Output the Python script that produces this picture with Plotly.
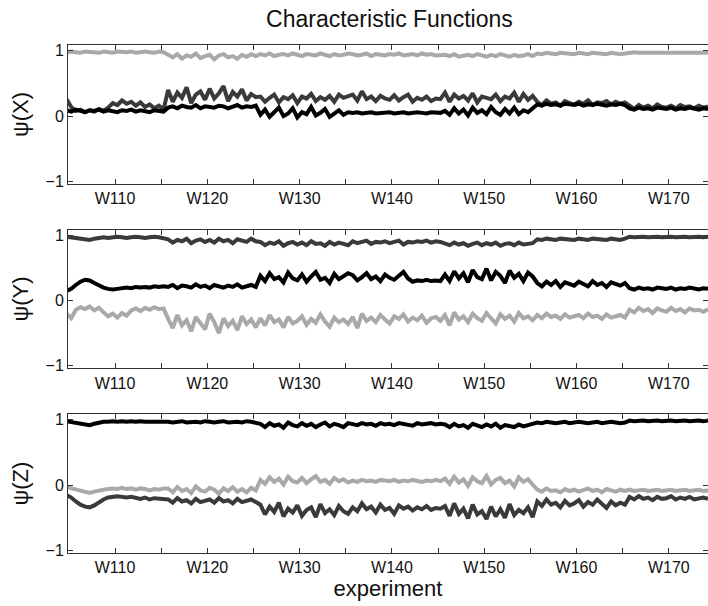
import plotly.graph_objects as go
from plotly.subplots import make_subplots

# experiments W105..W174, two samples per experiment
experiments = list(range(105, 175))
x_ticks = list(range(105, 180, 5))
x_labels = ["W%d" % t if t % 10 == 0 else "" for t in x_ticks]

# psi(X)
psi_x_light = [
    0.97, 0.99, 0.98, 0.97, 0.99, 0.98, 0.98, 0.97, 0.99, 0.98, 0.97, 0.99, 0.98, 0.98, 0.99, 0.97, 0.98, 0.99, 0.98, 0.97, 0.99, 0.98,
    0.94, 0.90, 0.95, 0.88, 0.93, 0.91, 0.96, 0.89, 0.92, 0.94, 0.87, 0.93, 0.95, 0.90, 0.92, 0.88, 0.94, 0.91, 0.95, 0.92,
    0.95, 0.93, 0.96, 0.92, 0.94, 0.95, 0.93, 0.96, 0.94, 0.92, 0.95, 0.94, 0.93, 0.96, 0.94, 0.92, 0.95, 0.93, 0.94, 0.96,
    0.95, 0.93, 0.94, 0.96, 0.92, 0.95, 0.94, 0.93, 0.95, 0.94, 0.96, 0.93, 0.94, 0.95, 0.93, 0.96, 0.94, 0.95, 0.93, 0.94,
    0.94, 0.92, 0.95, 0.91, 0.93, 0.94, 0.92, 0.95, 0.93, 0.91, 0.94, 0.92, 0.95, 0.93, 0.91, 0.94, 0.92, 0.93, 0.95, 0.92,
    0.96, 0.95, 0.97, 0.96, 0.95, 0.97, 0.96, 0.96, 0.95, 0.97, 0.96, 0.95, 0.97, 0.96, 0.96, 0.95, 0.97, 0.96, 0.95, 0.96,
    0.97, 0.98, 0.97, 0.97, 0.98, 0.97, 0.98, 0.97, 0.97, 0.98, 0.97, 0.98, 0.97, 0.97, 0.98, 0.97, 0.98, 0.97,
]
psi_x_dark = [
    0.26, 0.14, 0.08, 0.10, 0.06, 0.09, 0.07, 0.11, 0.08, 0.13, 0.20, 0.17, 0.24, 0.19, 0.22, 0.16, 0.21, 0.14, 0.18, 0.12, 0.16, 0.10,
    0.40, 0.22, 0.36, 0.28, 0.44, 0.20, 0.33, 0.38, 0.25, 0.42, 0.27, 0.35, 0.46, 0.23, 0.37, 0.30, 0.41, 0.24, 0.34, 0.29,
    0.30, 0.22, 0.28, 0.33, 0.21, 0.29, 0.26, 0.32, 0.20, 0.30, 0.27, 0.34, 0.23, 0.29, 0.25, 0.31, 0.22, 0.33, 0.28, 0.30,
    0.33, 0.24, 0.38, 0.26, 0.30, 0.23, 0.31, 0.27, 0.25, 0.32, 0.24, 0.29, 0.33, 0.22, 0.28, 0.25, 0.30, 0.23, 0.27, 0.26,
    0.36, 0.22, 0.33, 0.27, 0.31, 0.24, 0.35, 0.21, 0.30, 0.28, 0.26, 0.33, 0.23, 0.30, 0.27, 0.36, 0.22, 0.34, 0.25, 0.31,
    0.22, 0.17, 0.24, 0.19, 0.21, 0.16, 0.23, 0.20, 0.18, 0.22, 0.19, 0.24, 0.17, 0.21, 0.20, 0.23, 0.18, 0.22, 0.19, 0.21,
    0.15, 0.11, 0.17, 0.13, 0.16, 0.12, 0.18, 0.14, 0.13, 0.16, 0.12, 0.17, 0.14, 0.15, 0.12, 0.16, 0.13, 0.15,
]
psi_x_black = [
    0.09, 0.07, 0.10, 0.08, 0.06, 0.09, 0.08, 0.10, 0.07, 0.09, 0.08, 0.06, 0.09, 0.08, 0.10, 0.07, 0.09, 0.08, 0.06, 0.09, 0.08, 0.07,
    0.13, 0.15, 0.12, 0.16, 0.14, 0.13, 0.17, 0.12, 0.15, 0.14, 0.13, 0.16, 0.15, 0.12, 0.14, 0.17, 0.13, 0.15, 0.14, 0.16,
    0.02, 0.10, -0.01, 0.05, 0.13, 0.00, 0.04, 0.12, -0.02, 0.06, 0.03, 0.14, 0.01, 0.05, 0.11, -0.01, 0.04, 0.09, 0.02, 0.06,
    0.05, 0.06, 0.04, 0.05, 0.06, 0.04, 0.05, 0.05, 0.06, 0.04, 0.05, 0.06, 0.04, 0.05, 0.06, 0.05, 0.04, 0.06, 0.05, 0.05,
    0.08, 0.02, 0.12, 0.04, 0.10, 0.01, 0.13, 0.05, 0.09, 0.03, 0.14, 0.06, 0.02, 0.11, 0.04, 0.13, 0.03, 0.09, 0.06, 0.12,
    0.18, 0.16, 0.19, 0.17, 0.18, 0.16, 0.19, 0.18, 0.17, 0.19, 0.16, 0.18, 0.17, 0.19, 0.18, 0.16, 0.18, 0.17, 0.19, 0.17,
    0.12, 0.10, 0.13, 0.11, 0.12, 0.10, 0.13, 0.12, 0.11, 0.13, 0.10, 0.12, 0.11, 0.13, 0.12, 0.10, 0.12, 0.11,
]

# psi(Y)
psi_y_light = [
    -0.20, -0.27, -0.14, -0.10, -0.13, -0.09, -0.15, -0.11, -0.18, -0.24, -0.20, -0.26, -0.19, -0.23, -0.15, -0.12, -0.16, -0.11, -0.14, -0.10, -0.13, -0.12,
    -0.28, -0.42, -0.22, -0.38, -0.30, -0.47, -0.25, -0.35, -0.44, -0.20, -0.33, -0.50, -0.27, -0.39, -0.31, -0.45, -0.24, -0.36, -0.29, -0.41,
    -0.27, -0.38, -0.22, -0.33, -0.29, -0.41, -0.25, -0.35, -0.31, -0.24, -0.37, -0.28, -0.34, -0.21, -0.32, -0.40, -0.26, -0.33, -0.29, -0.36,
    -0.25, -0.42, -0.20, -0.31, -0.26, -0.33, -0.22, -0.29, -0.35, -0.24, -0.28, -0.21, -0.32, -0.26, -0.30, -0.23, -0.34, -0.27, -0.25, -0.31,
    -0.22, -0.38, -0.18, -0.29, -0.24, -0.33, -0.20, -0.27, -0.31, -0.19, -0.26, -0.35, -0.21, -0.28, -0.23, -0.32, -0.19, -0.27, -0.24, -0.30,
    -0.22, -0.27, -0.20, -0.25, -0.23, -0.28, -0.21, -0.26, -0.24, -0.22, -0.27, -0.20, -0.25, -0.23, -0.28, -0.21, -0.26, -0.24, -0.22, -0.26,
    -0.14, -0.18, -0.11, -0.16, -0.13, -0.19, -0.12, -0.15, -0.17, -0.11, -0.16, -0.13, -0.18, -0.12, -0.15, -0.14, -0.17, -0.13,
]
psi_y_dark = [
    0.98, 0.97, 0.96, 0.95, 0.94, 0.93, 0.95, 0.96, 0.97, 0.96, 0.97, 0.98, 0.97, 0.96, 0.97, 0.98, 0.97, 0.96, 0.97, 0.98, 0.97, 0.96,
    0.94, 0.89, 0.93, 0.91, 0.95, 0.88, 0.92, 0.94, 0.90, 0.93, 0.89, 0.95, 0.91, 0.93, 0.88, 0.94, 0.92, 0.90, 0.95, 0.91,
    0.90, 0.85, 0.89, 0.87, 0.91, 0.84, 0.88, 0.90, 0.86, 0.89, 0.85, 0.91, 0.87, 0.88, 0.84, 0.90, 0.86, 0.89, 0.87, 0.85,
    0.91, 0.88, 0.90, 0.92, 0.87, 0.90, 0.89, 0.91, 0.88, 0.90, 0.92, 0.86, 0.90, 0.89, 0.91, 0.90, 0.92, 0.89, 0.91, 0.90,
    0.88, 0.85, 0.89, 0.86, 0.88, 0.84, 0.87, 0.89, 0.85, 0.88, 0.86, 0.89, 0.84, 0.87, 0.88, 0.85, 0.89, 0.86, 0.87, 0.88,
    0.94, 0.93, 0.95, 0.94, 0.93, 0.95, 0.94, 0.94, 0.93, 0.95, 0.94, 0.93, 0.95, 0.94, 0.94, 0.93, 0.95, 0.94, 0.93, 0.95,
    0.98, 0.97, 0.98, 0.98, 0.97, 0.98, 0.98, 0.97, 0.98, 0.98, 0.97, 0.98, 0.98, 0.97, 0.98, 0.98, 0.97, 0.98,
]
psi_y_black = [
    0.15, 0.18, 0.24, 0.29, 0.32, 0.31, 0.27, 0.23, 0.20, 0.18, 0.17, 0.18, 0.19, 0.20, 0.19, 0.21, 0.20, 0.21, 0.20, 0.22, 0.21, 0.22,
    0.21, 0.24, 0.19, 0.23, 0.22, 0.20, 0.25, 0.21, 0.23, 0.19, 0.24, 0.22, 0.20, 0.23, 0.21, 0.25, 0.20, 0.22, 0.24, 0.21,
    0.38, 0.30, 0.42, 0.33, 0.36, 0.28, 0.43, 0.34, 0.31, 0.40, 0.29, 0.37, 0.44, 0.32, 0.35, 0.27, 0.41, 0.33, 0.38, 0.42,
    0.39, 0.31, 0.36, 0.42, 0.33, 0.37, 0.30, 0.40, 0.35, 0.32, 0.38, 0.44, 0.34, 0.29, 0.31, 0.30, 0.32, 0.30, 0.31, 0.30,
    0.40, 0.30, 0.45, 0.34, 0.42, 0.28, 0.47, 0.36, 0.33, 0.49, 0.31, 0.44, 0.38, 0.27, 0.46, 0.35, 0.41, 0.30, 0.43, 0.37,
    0.27, 0.22, 0.29, 0.24, 0.30, 0.21, 0.28, 0.25, 0.23, 0.29, 0.26, 0.22, 0.30, 0.24, 0.27, 0.21, 0.28, 0.25, 0.23, 0.27,
    0.19, 0.17, 0.20, 0.18, 0.19, 0.17, 0.20, 0.19, 0.18, 0.20, 0.17, 0.19, 0.18, 0.20, 0.19, 0.17, 0.19, 0.18,
]

# psi(Z)
psi_z_light = [
    -0.03, -0.05, -0.07, -0.09, -0.11, -0.12, -0.10, -0.08, -0.07, -0.06, -0.05, -0.06, -0.04, -0.06, -0.05, -0.07, -0.05, -0.06, -0.08, -0.06, -0.07, -0.05,
    -0.05, -0.11, -0.03, -0.09, -0.06, -0.12, -0.02, -0.08, -0.10, -0.04, -0.07, -0.13, -0.05, -0.09, -0.03, -0.10, -0.06, -0.11, -0.04, -0.08,
    0.08, 0.02, 0.12, 0.05, 0.10, 0.01, 0.13, 0.06, 0.04, 0.11, 0.03, 0.09, 0.14, 0.05, 0.08, 0.02, 0.11, 0.06, 0.09, 0.04,
    0.07, 0.05, 0.08, 0.06, 0.07, 0.05, 0.08, 0.07, 0.06, 0.08, 0.05, 0.07, 0.06, 0.08, 0.07, 0.05, 0.07, 0.06, 0.08, 0.06,
    0.10, 0.02, 0.13, 0.04, 0.09, -0.01, 0.12, 0.06, 0.03, 0.14, 0.01, 0.08, 0.11, 0.03, 0.07, -0.02, 0.12, 0.05, 0.09, 0.02,
    -0.07, -0.10, -0.05, -0.09, -0.08, -0.11, -0.06, -0.09, -0.07, -0.10, -0.08, -0.05, -0.09, -0.07, -0.11, -0.06, -0.08, -0.10, -0.07, -0.09,
    -0.07, -0.09, -0.08, -0.07, -0.09, -0.08, -0.07, -0.09, -0.08, -0.07, -0.09, -0.08, -0.07, -0.09, -0.08, -0.07, -0.09, -0.08,
]
psi_z_dark = [
    -0.15, -0.19, -0.25, -0.30, -0.33, -0.34, -0.31, -0.26, -0.22, -0.19, -0.18, -0.17, -0.18, -0.19, -0.18, -0.20, -0.21, -0.19, -0.22, -0.20, -0.21, -0.22,
    -0.22, -0.27, -0.20, -0.25, -0.23, -0.28, -0.21, -0.26, -0.24, -0.22, -0.27, -0.20, -0.25, -0.23, -0.28, -0.21, -0.26, -0.24, -0.22, -0.26,
    -0.30, -0.45, -0.33, -0.41, -0.27, -0.48, -0.36, -0.42, -0.31, -0.47, -0.38, -0.34, -0.49, -0.29, -0.43, -0.37, -0.46, -0.32, -0.40, -0.44,
    -0.34, -0.40, -0.28, -0.37, -0.33, -0.42, -0.30, -0.38, -0.35, -0.44, -0.31, -0.36, -0.33, -0.39, -0.34, -0.37, -0.32, -0.38, -0.35, -0.36,
    -0.32, -0.47, -0.28, -0.44, -0.36, -0.51, -0.30, -0.45, -0.40, -0.52, -0.33, -0.48, -0.37, -0.50, -0.29, -0.46, -0.38, -0.43, -0.34, -0.49,
    -0.25, -0.32, -0.22, -0.30, -0.27, -0.34, -0.24, -0.31, -0.28, -0.23, -0.33, -0.26, -0.30, -0.22, -0.29, -0.35, -0.25, -0.31, -0.27, -0.30,
    -0.18, -0.22, -0.17, -0.21, -0.19, -0.23, -0.18, -0.21, -0.20, -0.17, -0.22, -0.19, -0.21, -0.18, -0.22, -0.20, -0.19, -0.21,
]
psi_z_black = [
    0.98, 0.97, 0.96, 0.95, 0.93, 0.92, 0.94, 0.96, 0.97, 0.97, 0.98, 0.97, 0.98, 0.97, 0.98, 0.97, 0.98, 0.97, 0.97, 0.98, 0.97, 0.98,
    0.97, 0.96, 0.97, 0.98, 0.96, 0.97, 0.97, 0.96, 0.98, 0.97, 0.96, 0.97, 0.98, 0.96, 0.97, 0.97, 0.96, 0.98, 0.97, 0.96,
    0.94, 0.89, 0.95, 0.91, 0.93, 0.88, 0.96, 0.92, 0.90, 0.95, 0.91, 0.94, 0.89, 0.93, 0.96, 0.90, 0.94, 0.92, 0.89, 0.95,
    0.94, 0.92, 0.95, 0.93, 0.94, 0.91, 0.95, 0.93, 0.94, 0.92, 0.95, 0.94, 0.93, 0.91, 0.95, 0.93, 0.94, 0.95, 0.93, 0.94,
    0.93, 0.89, 0.94, 0.90, 0.92, 0.88, 0.94, 0.91, 0.89, 0.93, 0.90, 0.94, 0.88, 0.92, 0.91, 0.89, 0.93, 0.90, 0.92, 0.94,
    0.96, 0.95, 0.97, 0.96, 0.95, 0.96, 0.97, 0.95, 0.96, 0.97, 0.96, 0.95, 0.96, 0.97, 0.95, 0.96, 0.97, 0.96, 0.95, 0.96,
    0.99, 0.98, 0.99, 0.99, 0.98, 0.99, 0.99, 0.98, 0.99, 0.99, 0.98, 0.99, 0.99, 0.98, 0.99, 0.99, 0.98, 0.99,
]

# sample positions: two per experiment
x = []
for e in experiments:
    x += [e - 0.25, e + 0.25]

panels = [
    ("ψ(X)", [psi_x_light, psi_x_dark, psi_x_black]),
    ("ψ(Y)", [psi_y_light, psi_y_dark, psi_y_black]),
    ("ψ(Z)", [psi_z_light, psi_z_dark, psi_z_black]),
]
colors = ["#a9a9a9", "#3a3a3a", "#000000"]
font = "Liberation Sans, Arial, Helvetica, sans-serif"

fig = make_subplots(rows=3, cols=1, vertical_spacing=0.0896)

for row, (label, series) in enumerate(panels, start=1):
    for ys, c in zip(series, colors):
        fig.add_trace(go.Scatter(x=x, y=ys, mode="lines",
                                 line=dict(color=c, width=4),
                                 showlegend=False, hoverinfo="skip"),
                      row=row, col=1)
    fig.update_xaxes(range=[104.9, 174.25], tickvals=x_ticks, ticktext=x_labels,
                     ticks="inside", ticklen=5, tickcolor="#333",
                     showline=True, linecolor="#333", linewidth=1, mirror="ticks",
                     showgrid=False, zeroline=False, automargin=False,
                     tickfont=dict(size=16, color="#111"),
                     row=row, col=1)
    fig.update_yaxes(range=[-1.04, 1.09], tickvals=[-1, 0, 1], ticktext=["−1", "0", "1"],
                     ticks="inside", ticklen=5, tickcolor="#333",
                     showline=True, linecolor="#333", linewidth=1, mirror="ticks",
                     showgrid=False, zeroline=False, automargin=False,
                     tickfont=dict(size=16, color="#111"),
                     title=dict(text=label, font=dict(size=22, color="#111"), standoff=10),
                     row=row, col=1)

fig.update_xaxes(title=dict(text="experiment", font=dict(size=22, color="#111"), standoff=0),
                 row=3, col=1)

fig.update_layout(
    template="none",
    width=708, height=606,
    margin=dict(l=68, r=0, t=45, b=53),
    paper_bgcolor="white", plot_bgcolor="white",
    font=dict(family=font, color="#111"),
    title=dict(text="Characteristic Functions", font=dict(size=23, color="#111"),
               x=0.55, xanchor="center", y=0.969, yanchor="middle"),
)

# drop the default 8px page margin so the figure fills the window
fig.write_html("out.html", config={"displayModeBar": False},
               post_script="document.body.style.margin = '0';")
